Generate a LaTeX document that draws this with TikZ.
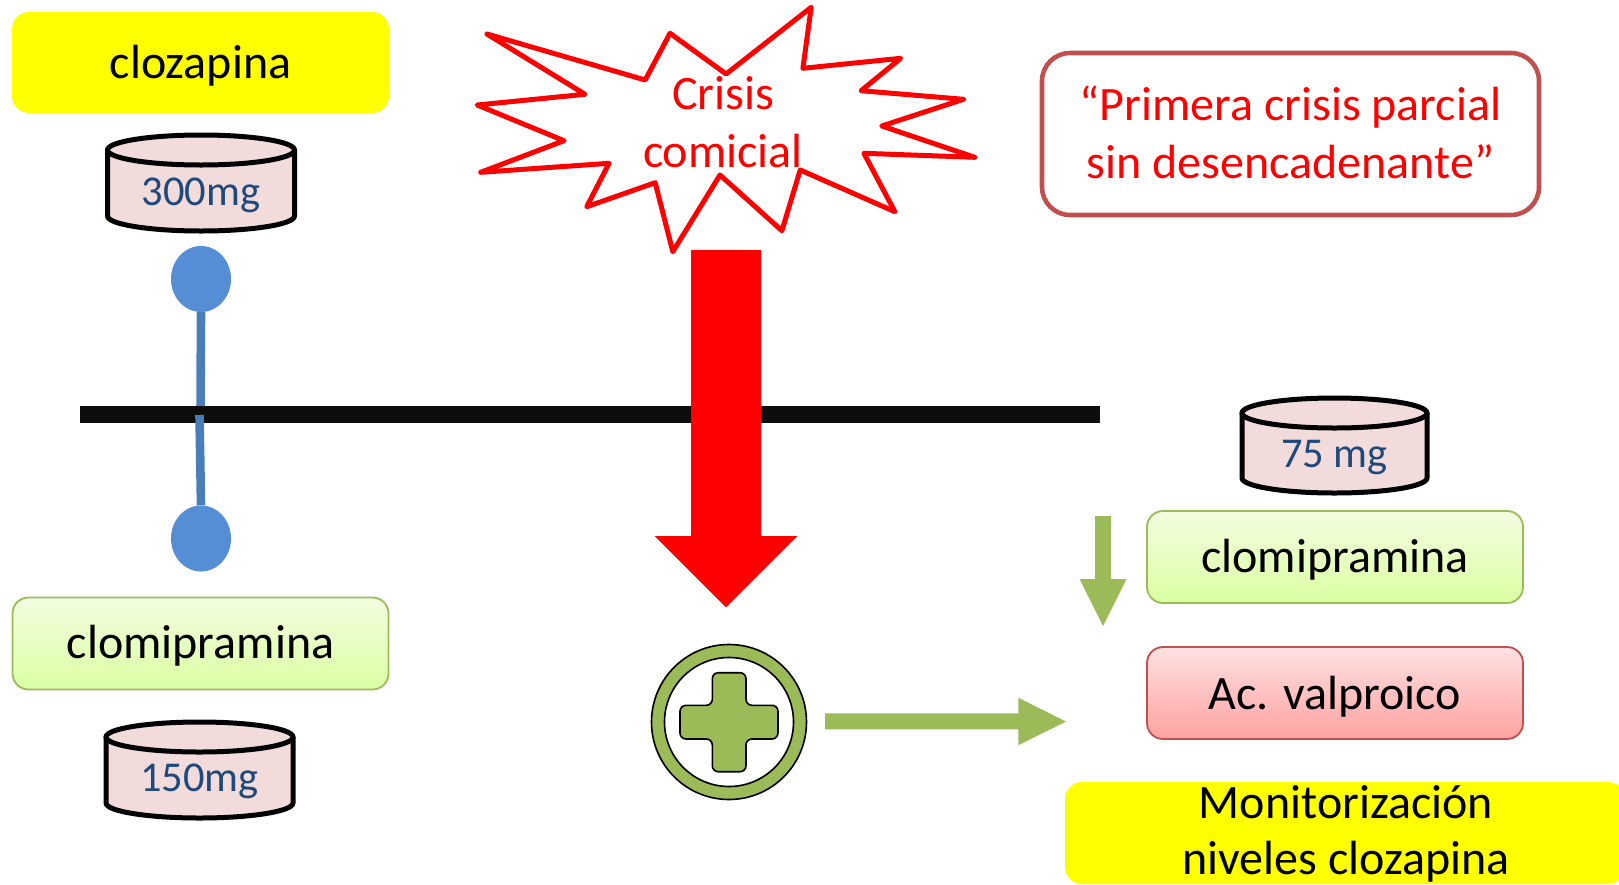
\documentclass[tikz,border=0pt]{standalone}
\usepackage{fontspec}
\setmainfont{Carlito}
\usetikzlibrary{shapes.geometric}
\definecolor{cyellow}{RGB}{255,255,0}
\definecolor{cgreen}{HTML}{9BBB59}
\definecolor{cblue}{HTML}{558ED5}
\definecolor{cbluel}{HTML}{4A7EBB}
\definecolor{cpill}{HTML}{F2DCDB}
\definecolor{cnavy}{HTML}{1F497D}
\definecolor{cred}{HTML}{C0504D}
\definecolor{caxis}{HTML}{0D0D0D}
\definecolor{GreenTop}{HTML}{F3FDE0}
\definecolor{GreenBot}{HTML}{DBFFA3}
\definecolor{RedTop}{HTML}{FFE1E1}
\definecolor{RedBot}{HTML}{FFA2A2}
\tikzset{
  x=1pt,y=-1pt,
  label42/.style={font=\fontsize{48}{58}\selectfont,align=center,inner sep=0pt},
  yellowbox/.style={rectangle,rounded corners=17pt,fill=cyellow,inner sep=0pt,label42,text=black},
  greenbox/.style={rectangle,rounded corners=16pt,draw=cgreen,line width=1.8pt,top color=GreenTop,bottom color=GreenBot},
  redbox/.style={rectangle,rounded corners=16pt,draw=cred,line width=1.8pt,top color=RedTop,bottom color=RedBot},
  outlinebox/.style={rectangle,rounded corners=28pt,draw=cred,line width=4.6pt,fill=white},
  pilltext/.style={font=\fontsize{42.5}{48}\selectfont,text=cnavy,inner sep=0pt},
  pilline/.style={draw=black,line width=5pt,line join=round,fill=cpill},
  dotnode/.style={ellipse,fill=cblue,inner sep=0pt,minimum width=60pt,minimum height=66pt},
  stem/.style={draw=cbluel,line width=8.6pt},
  axisline/.style={draw=caxis,line width=17pt},
  starline/.style={draw=red,line width=5pt,line join=round,fill=white},
  ringnode/.style={circle,draw=black,line width=1.6pt,inner sep=0pt},
}
% centre x, y of top ellipse, x radius, y of side ends, label, text y, node name
\newcommand{\pillshape}[7]{%
  \draw[pilline] ({#1-#3},#2) -- ({#1-#3},#4)
    .. controls ({#1-#3},{#4+8.3}) and ({#1-0.55*#3},{#4+15}) .. (#1,{#4+15})
    .. controls ({#1+0.55*#3},{#4+15}) and ({#1+#3},{#4+8.3}) .. ({#1+#3},#4)
    -- ({#1+#3},#2) -- cycle;
  \draw[pilline] (#1,#2) ellipse [x radius=#3, y radius=15];
  \node[pilltext] (#7) at (#1,#6) {#5};
}
\begin{document}
\begin{tikzpicture}
\useasboundingbox (0,0) rectangle (1619,884);
\clip (0,0) rectangle (1619,884);

% left top
\node[yellowbox,minimum width=377pt,minimum height=101pt] (cloz) at (200.5,62.5) {};
\node[label42] (clozT) at (200.5,65.5) {clozapina};
\pillshape{201}{150}{93.5}{216}{300mg}{195}{pillA}

% lollipop and axis
\node[dotnode] (dotA) at (201,279) {};
\node[dotnode] (dotB) at (201,538.5) {};
\coordinate (axisL) at (80,414.5);
\coordinate (axisR) at (1100,414.5);
\coordinate (stemA) at (200.5,415);
\coordinate (stemB) at (199.5,415);
\draw[stem] (dotA.south) -- (stemA);
\draw[axisline] (axisL) -- (axisR);
\draw[stem] (stemB) -- (dotB.north);

% left bottom
\node[greenbox,minimum width=376pt,minimum height=92pt] (clomA) at (200.5,643.5) {};
\node[label42] (clomAT) at (200.5,646) {clomipramina};
\pillshape{199.5}{737}{93.5}{803}{150mg}{781}{pillB}

% star
\draw[starline] (486.9,34) -- (645.2,80) -- (670,33.3) -- (726.1,74) -- (811.2,7.3) -- (802.9,68.3) -- (900.7,58.3) -- (861.1,90.7) -- (963.4,99.3) -- (881.8,126) -- (974.7,157.3) -- (863.9,153.3) -- (894.9,211.7) -- (800.2,170) -- (781.9,230.7) -- (720,175) -- (672.8,251.7) -- (655.2,182.7) -- (586.7,206.7) -- (609.1,163.3) -- (480.7,172.3) -- (564,140.7) -- (477.2,105) -- (585,94.3) -- cycle;
\node[label42,text=red] (crisis) at (723,122) {Crisis\\comicial};

% quote box
\node[outlinebox,minimum width=497pt,minimum height=162pt] (quote) at (1290.5,134) {};
\node[label42,text=red] (quoteT) at (1290.5,132) {“Primera crisis parcial\\sin desencadenante”};

% red arrow
\fill[red] (691,250) -- (761,250) -- (761,536) -- (797.3,536) -- (726,607.3) -- (654.7,536) -- (691,536) -- cycle;

% plus icon
\node[ringnode,fill=cgreen,minimum size=155pt] (ringO) at (729,722) {};
\node[ringnode,fill=white,minimum size=129pt] (ringI) at (729,722) {};
\draw[fill=cgreen,draw=black,line width=1.6pt,rounded corners=6pt] (712.3,672.7) -- (746,672.7) -- (746,705.3) -- (778,705.3) -- (778,739) -- (746,739) -- (746,771.7) -- (712.3,771.7) -- (712.3,739) -- (680,739) -- (680,705.3) -- (712.3,705.3) -- cycle;

% green arrows
\fill[cgreen] (825,713.3) -- (1018.3,713.3) -- (1018.3,697.7) -- (1066,721.5) -- (1018.3,745.3) -- (1018.3,729.3) -- (825,729.3) -- cycle;
\fill[cgreen] (1095,516) -- (1111,516) -- (1111,579) -- (1126.5,579) -- (1103,626) -- (1079.5,579) -- (1095,579) -- cycle;

% right
\pillshape{1334.5}{413}{92.5}{478}{75 mg}{458}{pillC}
\node[greenbox,minimum width=376pt,minimum height=92pt] (clomB) at (1335,557) {};
\node[label42] (clomBT) at (1335,560) {clomipramina};
\node[redbox,minimum width=376pt,minimum height=92pt] (valp) at (1335,693) {};
\node[label42] (valpT) at (1335,697) {Ac. valproico};
\node[yellowbox,minimum width=560pt,minimum height=102pt] (monit) at (1345,833) {};
\node[label42] (monitT) at (1346,833.5) {Monitorización\\[-2pt]niveles clozapina};
\end{tikzpicture}
\end{document}
